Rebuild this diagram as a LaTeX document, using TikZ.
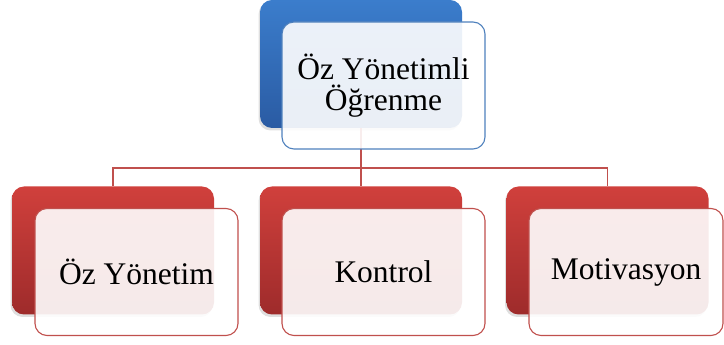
\documentclass[tikz,border=0pt]{standalone}
\usepackage{fontspec}
\setmainfont{Liberation Serif}
\usetikzlibrary{shadows}
\definecolor{bluetop}{HTML}{3B7DCC}
\definecolor{bluebot}{HTML}{2A5BA3}
\definecolor{redtop}{HTML}{D0403C}
\definecolor{redbot}{HTML}{9E2B2B}
\definecolor{blueline}{HTML}{4F81BD}
\definecolor{redline}{HTML}{C0504D}
\tikzset{
  backbox/.style={rounded corners=12pt, minimum width=202pt, minimum height=128pt, inner sep=0pt,
    drop shadow={shadow xshift=-1.5pt, shadow yshift=-2.5pt, opacity=0.25}},
  blueback/.style={backbox, top color=bluetop, bottom color=bluebot},
  redback/.style={backbox, top color=redtop, bottom color=redbot},
  frontbox/.style={rounded corners=12pt, minimum width=203pt, minimum height=127pt, inner sep=0pt,
    fill=white, fill opacity=0.9, text opacity=1, line width=1.1pt, align=center,
    font=\fontsize{31.5}{31}\selectfont},
  bluefront/.style={frontbox, draw=blueline},
  redfront/.style={frontbox, draw=redline},
  conn/.style={draw=redline, line width=1.3pt}
}
\begin{document}
\begin{tikzpicture}[x=1pt,y=1pt]
\useasboundingbox (0,0) rectangle (724,345);
% back boxes
\node[blueback] (tb) at (361,281) {};
\node[redback] (b1) at (113,94.5) {};
\node[redback] (b2) at (361,94.5) {};
\node[redback] (b3) at (607.5,94.5) {};
% connectors
\coordinate (hub) at (361,177);
\draw[conn] (tb.south) -- (hub);
\draw[conn] (hub) -| (b1.north);
\draw[conn] (hub) -| (b3.north);
\draw[conn] (hub) -- (b2.north);
% front boxes
\node[bluefront] (tf) at (383.5,259.5) {Öz Yönetimli\\Öğrenme};
\node[redfront] (f1) at (136.5,73) {Öz Yönetim};
\node[redfront] (f2) at (383.5,73) {Kontrol};
\node[redfront, minimum width=194pt] (f3) at (626,73) {Motivasyon};
\end{tikzpicture}
\end{document}
